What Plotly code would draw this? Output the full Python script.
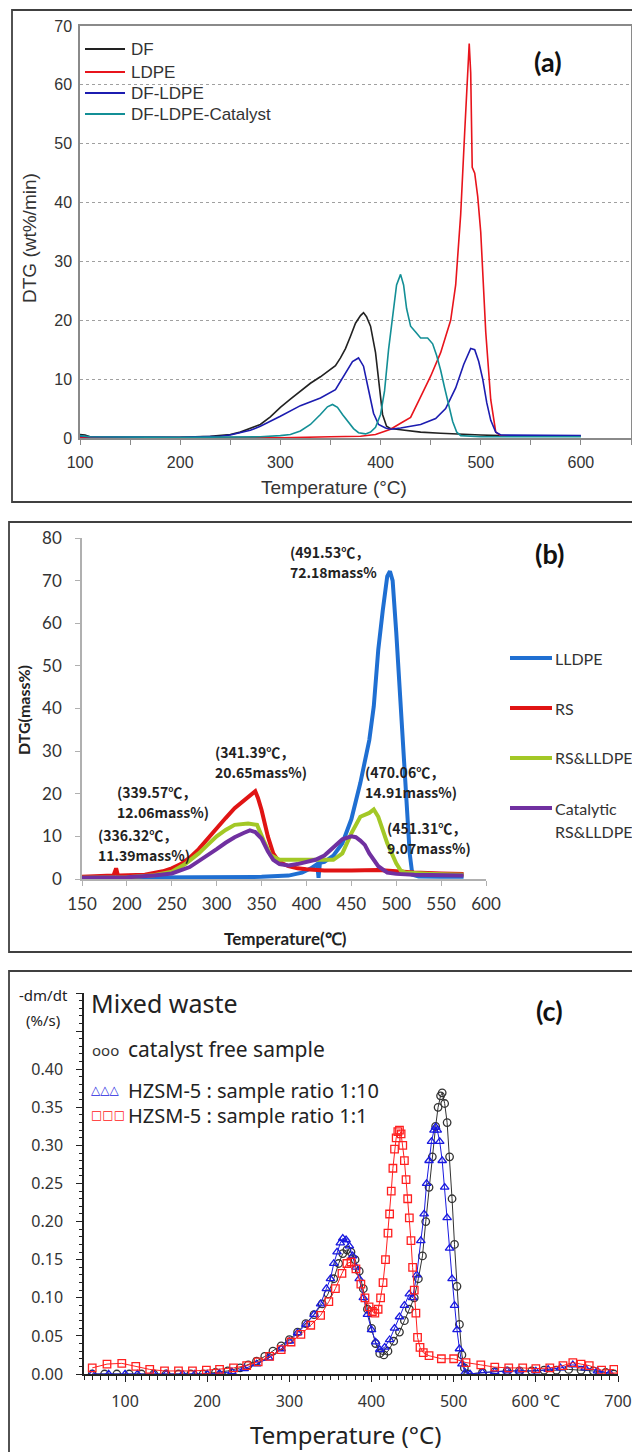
import plotly.graph_objects as go

W, H = 640, 1452
OFF = 8  # page body margin in the browser

def X(px):
    return (px - OFF) / W

def Y(py):
    return 1 - (py - OFF) / H

# ---------------- Panel (a) data ----------------
df_T = [100, 105, 110, 120, 150, 200, 230, 250, 260, 270, 280, 290, 300, 310, 320, 330, 340, 350, 355, 360,
        365, 370, 375, 380, 383, 386, 390, 395, 398, 402, 406, 410, 420, 440, 460, 480, 500, 520, 550, 600]
df_Y = [0.6, 0.5, 0.2, 0.1, 0.05, 0.1, 0.3, 0.6, 1.0, 1.6, 2.3, 3.6, 5.2, 6.6, 8.0, 9.3, 10.4, 11.6, 12.3, 13.6,
        15.2, 17.3, 19.5, 20.8, 21.3, 20.6, 19.0, 14.5, 10.0, 4.0, 2.0, 1.6, 1.4, 1.0, 0.8, 0.6, 0.5, 0.4, 0.3, 0.3]

ldpe_T = [100, 200, 300, 350, 380, 395, 400, 410, 420, 430, 440, 450, 460, 470, 475, 480, 484, 487, 488.5,
          490, 491.5, 494, 497, 500, 505, 510, 515, 520, 560, 600]
ldpe_Y = [0.1, 0.05, 0.05, 0.2, 0.3, 0.6, 0.9, 1.5, 2.5, 3.5, 7.0, 10.5, 14.5, 20.0, 26.0, 38.0, 52.0, 63.0, 67.0,
          62.0, 46.0, 45.0, 41.0, 35.0, 18.0, 6.5, 1.0, 0.4, 0.3, 0.3]

dfl_T = [100, 110, 200, 240, 250, 270, 280, 290, 300, 320, 340, 355, 365, 372, 378, 383, 388, 393, 398, 405,
         410, 420, 440, 455, 465, 475, 483, 490, 494, 498, 502, 506, 510, 515, 520, 560, 600]
dfl_Y = [0.3, 0.2, 0.1, 0.3, 0.5, 1.3, 2.0, 2.8, 3.7, 5.5, 6.8, 8.2, 11.0, 13.0, 13.6, 12.2, 8.2, 4.2, 2.3, 1.7,
         1.5, 1.7, 2.3, 3.3, 5.0, 8.5, 12.5, 15.2, 15.0, 13.0, 10.0, 6.0, 3.0, 1.0, 0.5, 0.4, 0.4]

cat_T = [100, 110, 200, 280, 300, 310, 320, 330, 340, 347, 352, 357, 362, 368, 373, 378, 385, 390, 395, 400,
         404, 408, 412, 416, 420, 423, 426, 430, 435, 440, 447, 452, 456, 460, 464, 468, 472, 476, 480, 500, 600]
cat_Y = [0.4, 0.2, 0.1, 0.2, 0.4, 0.6, 1.2, 2.3, 4.0, 5.3, 5.7, 5.2, 4.0, 2.7, 1.6, 0.9, 0.7, 1.0, 1.8, 4.0,
         8.0, 15.0, 21.0, 26.0, 27.8, 26.0, 22.0, 19.0, 18.0, 17.0, 17.0, 16.0, 14.0, 11.5, 8.5, 5.5, 2.8, 1.0,
         0.4, 0.2, 0.2]

a_names = ["DF", "LDPE", "DF-LDPE", "DF-LDPE-Catalyst"]
a_colors = ["#222222", "#e8141c", "#1c1cb0", "#138f96"]

# ---------------- Panel (b) data ----------------
lldpe_T = [150, 200, 250, 300, 350, 380, 395, 405, 412, 413.5, 415, 420, 430, 440, 450, 460, 470, 475, 480, 485,
           490, 493, 496, 500, 505, 510, 515, 518, 525, 550, 575]
lldpe_Y = [0.3, 0.3, 0.3, 0.4, 0.5, 0.8, 1.5, 2.5, 3.5, 0.3, 3.8, 4.0, 5.5, 8.4, 14.0, 22.5, 32.6, 40.5, 53.8, 63.0,
           71.0, 72.2, 70.0, 58.0, 40.0, 22.0, 6.0, 1.0, 0.6, 0.5, 0.5]

rs_T = [150, 170, 185, 188, 190, 192, 200, 220, 240, 250, 260, 270, 280, 290, 300, 310, 320, 330, 336, 340,
        343, 346, 350, 357, 363, 368, 373, 380, 390, 400, 420, 450, 480, 500, 520, 550, 575]
rs_Y = [0.5, 0.6, 0.8, 2.5, 0.8, 0.8, 0.8, 1.0, 1.8, 2.5, 3.5, 5.0, 7.0, 9.5, 11.8, 14.3, 16.6, 18.3, 19.3, 20.0,
        20.6, 19.0, 16.2, 10.0, 6.0, 4.5, 3.7, 3.0, 2.5, 2.3, 2.0, 2.0, 2.1, 1.8, 1.5, 1.3, 1.2]

mix_T = [150, 200, 230, 250, 265, 280, 290, 300, 310, 320, 335, 345, 352, 360, 370, 380, 400, 430, 440, 450,
         460, 470, 475, 480, 490, 500, 505, 510, 540, 575]
mix_Y = [0.3, 0.4, 0.9, 1.7, 3.5, 6.0, 8.0, 10.0, 11.5, 12.7, 13.0, 12.7, 9.2, 5.6, 4.5, 4.5, 4.5, 4.5, 6.0, 10.7,
         14.6, 15.5, 16.3, 14.6, 8.4, 3.7, 2.0, 1.5, 1.2, 1.0]

catb_T = [150, 200, 230, 250, 270, 290, 300, 310, 320, 330, 337, 343, 350, 357, 363, 370, 380, 390, 400, 410,
          420, 430, 440, 450, 455, 460, 465, 470, 475, 480, 490, 500, 520, 550, 575]
catb_Y = [0.3, 0.4, 0.8, 1.3, 2.8, 5.5, 7.0, 8.5, 9.8, 10.8, 11.4, 11.0, 9.5, 6.5, 4.5, 3.5, 3.2, 3.5, 4.0, 4.5,
          5.5, 7.5, 9.3, 10.0, 9.8, 9.0, 8.0, 6.0, 4.5, 3.0, 1.5, 1.2, 1.0, 0.8, 0.8]

b_names = ["LLDPE", "RS", "RS&amp;LLDPE", "Catalytic RS&amp;LLDPE"]
b_colors = ["#1f6fd2", "#e01414", "#a3c826", "#7030a0"]

b_labels = [
    ("(491.53℃，", "72.18mass%", 288, 552),
    ("(341.39℃，", "20.65mass%)", 213, 752),
    ("(339.57℃，", "12.06mass%)", 115, 792),
    ("(336.32℃，", "11.39mass%)", 96, 835),
    ("(470.06℃，", "14.91mass%)", 363, 772),
    ("(451.31℃，", "9.07mass%)", 385, 828),
]

# ---------------- Panel (c) data ----------------
free_T = [60, 75, 90, 105, 120, 135, 150, 165, 180, 195, 210, 225, 240, 250, 260, 270, 280, 290, 300, 310, 320,
          330, 340, 347, 354, 360, 365, 370, 375, 380, 385, 390, 395, 400, 405, 410, 415, 420, 427, 434, 440, 446,
          452, 457, 462, 466, 470, 474, 478, 481, 484, 486, 489, 492, 495, 498, 501, 504, 507, 510, 513, 517, 535,
          550, 565, 580, 595, 610, 625, 640, 655, 670, 685, 695]
free_Y = [0, 0, 0, 0, 0, 0, 0, 0, 0, 0, 0.002, 0.004, 0.008, 0.012, 0.017, 0.023, 0.030, 0.037, 0.045, 0.055,
          0.066, 0.078, 0.092, 0.105, 0.125, 0.145, 0.158, 0.163, 0.160, 0.150, 0.135, 0.112, 0.085, 0.060, 0.040,
          0.027, 0.025, 0.030, 0.043, 0.055, 0.070, 0.085, 0.100, 0.125, 0.155, 0.200, 0.245, 0.285, 0.325, 0.350,
          0.365, 0.369, 0.355, 0.330, 0.285, 0.230, 0.170, 0.115, 0.065, 0.025, 0.008, 0, 0.002, 0.003, 0.004,
          0.004, 0.004, 0.005, 0.005, 0.006, 0.005, 0.004, 0.002, 0]

h10_T = [60, 80, 100, 115, 135, 150, 170, 185, 200, 215, 230, 245, 260, 275, 290, 300, 310, 320, 330, 338, 345,
         350, 354, 358, 362, 365, 369, 373, 377, 381, 385, 390, 395, 400, 405, 410, 416, 422, 428, 434, 440, 446,
         450, 455, 460, 464, 467, 470, 473, 476, 478, 480, 483, 486, 489, 492, 495, 498, 501, 504, 507, 510, 514,
         520, 535, 550, 565, 580, 600, 615, 630, 645, 660, 675, 690]
h10_Y = [0, 0, 0, 0, 0, 0, 0, 0, 0, 0.001, 0.003, 0.007, 0.013, 0.021, 0.033, 0.043, 0.054, 0.065, 0.078, 0.092,
         0.112, 0.125, 0.145, 0.160, 0.172, 0.178, 0.176, 0.168, 0.155, 0.140, 0.125, 0.100, 0.078, 0.058, 0.042,
         0.032, 0.035, 0.045, 0.060, 0.075, 0.090, 0.105, 0.100, 0.130, 0.175, 0.210, 0.250, 0.280, 0.305, 0.320,
         0.324, 0.320, 0.305, 0.280, 0.245, 0.205, 0.165, 0.125, 0.090, 0.058, 0.033, 0.013, 0.002, 0, 0.002,
         0.003, 0.004, 0.004, 0.004, 0.006, 0.008, 0.012, 0.008, 0.004, 0.001]

h1_T = [60, 78, 96, 113, 130, 148, 165, 182, 199, 215, 232, 248, 262, 276, 290, 302, 314, 326, 338, 348, 356,
        364, 370, 375, 381, 387, 392, 397, 401, 404, 408, 411, 414, 417, 420, 422, 424, 426, 428, 430, 432, 434,
        436, 438, 440, 442, 444, 446, 448, 450, 452, 454, 456, 459, 463, 470, 485, 500, 515, 533, 550, 567, 584,
        600, 617, 633, 645, 655, 665, 680, 695]
h1_Y = [0.008, 0.013, 0.014, 0.010, 0.006, 0.004, 0.004, 0.004, 0.005, 0.006, 0.008, 0.011, 0.016, 0.023, 0.032,
        0.042, 0.052, 0.064, 0.077, 0.095, 0.112, 0.132, 0.145, 0.147, 0.138, 0.118, 0.100, 0.088, 0.082, 0.080,
        0.085, 0.100, 0.120, 0.150, 0.185, 0.210, 0.240, 0.270, 0.295, 0.310, 0.318, 0.320, 0.315, 0.300, 0.280,
        0.255, 0.230, 0.205, 0.175, 0.140, 0.110, 0.080, 0.048, 0.035, 0.028, 0.024, 0.020, 0.020, 0.015, 0.012,
        0.009, 0.008, 0.008, 0.007, 0.008, 0.011, 0.015, 0.013, 0.011, 0.005, 0.006]

c_names = ["catalyst free sample", "HZSM-5 : sample ratio 1:10", "HZSM-5 : sample ratio 1:1"]
c_colors = ["#333333", "#1a1ae0", "#ff2020"]
c_symbols = ["circle-open", "triangle-up-open", "square-open"]

x_ticks_a = [100, 200, 300, 400, 500, 600]
y_ticks_a = [0, 10, 20, 30, 40, 50, 60, 70]
x_ticks_b = [150, 200, 250, 300, 350, 400, 450, 500, 550, 600]
y_ticks_b = [0, 10, 20, 30, 40, 50, 60, 70, 80]
x_ticks_c = [100, 200, 300, 400, 500, 600, 700]
x_text_c = ["100", "200", "300", "400", "500", "600 °C", "700"]
y_ticks_c = [0, 0.05, 0.10, 0.15, 0.20, 0.25, 0.30, 0.35, 0.40, 0.45, 0.50]
y_text_c = ["0.00", "0.05", "0.10", "0.15", "0.20", "0.25", "0.30", "0.35", "0.40", "", ""]

fig = go.Figure()

# Panel (a)
for T, Yv, n, c in zip([df_T, ldpe_T, dfl_T, cat_T], [df_Y, ldpe_Y, dfl_Y, cat_Y], a_names, a_colors):
    fig.add_trace(go.Scatter(x=T, y=Yv, name=n, mode="lines", line=dict(color=c, width=1.6),
                             xaxis="x", yaxis="y", showlegend=False))

# Panel (b)
for T, Yv, n, c in zip([lldpe_T, rs_T, mix_T, catb_T], [lldpe_Y, rs_Y, mix_Y, catb_Y], b_names, b_colors):
    fig.add_trace(go.Scatter(x=T, y=Yv, name=n, mode="lines", line=dict(color=c, width=4),
                             xaxis="x2", yaxis="y2", showlegend=False))

# Panel (c)
for T, Yv, n, c, s in zip([free_T, h10_T, h1_T], [free_Y, h10_Y, h1_Y], c_names, c_colors, c_symbols):
    fig.add_trace(go.Scatter(x=T, y=Yv, name=n, mode="lines+markers",
                             line=dict(color=c, width=1),
                             marker=dict(symbol=s, size=7.5, color=c, line=dict(width=1.3, color=c)),
                             xaxis="x3", yaxis="y3", showlegend=False))

fa = "Liberation Sans"
fb = "Lato"
fc = "Noto Sans"

layout = dict(
    width=W, height=H, autosize=False,
    margin=dict(l=0, r=0, t=0, b=0, autoexpand=False),
    paper_bgcolor="white", plot_bgcolor="white",
    xaxis=dict(domain=[X(80), X(631)], range=[100, 650], tickvals=x_ticks_a, showline=True, mirror=True,
               linecolor="#8a8a8a", linewidth=1.5, ticks="outside", ticklen=5, tickcolor="#8a8a8a",
               minor=dict(dtick=50, ticks="outside", ticklen=5, tickcolor="#8a8a8a"),
               showgrid=False, zeroline=False, tickfont=dict(family=fa, size=16, color="#333"),
               ticklabelstandoff=4, anchor="y", automargin=False),
    yaxis=dict(domain=[Y(438), Y(26)], range=[0, 70], tickvals=y_ticks_a, showline=True, mirror=True,
               linecolor="#8a8a8a", linewidth=1.5, ticks="", showgrid=True, gridcolor="#a0a0a0",
               griddash="dot", gridwidth=1, zeroline=False,
               tickfont=dict(family=fa, size=16, color="#333"), ticklabelstandoff=3, anchor="x",
               automargin=False),
    xaxis2=dict(domain=[X(82), X(486)], range=[150, 600], tickvals=x_ticks_b, showline=True,
                linecolor="#b0b0b0", linewidth=1.5, ticks="outside", ticklen=5, tickcolor="#b0b0b0",
                showgrid=False, zeroline=False, tickfont=dict(family=fb, size=17, color="#333"),
                ticklabelstandoff=4, anchor="y2", automargin=False),
    yaxis2=dict(domain=[Y(879), Y(538)], range=[0, 80], tickvals=y_ticks_b, showline=True,
                linecolor="#b0b0b0", linewidth=1.5, ticks="outside", ticklen=5, tickcolor="#b0b0b0",
                showgrid=False, zeroline=False, tickfont=dict(family=fb, size=17, color="#333"),
                ticklabelstandoff=10, anchor="x2", automargin=False),
    xaxis3=dict(domain=[X(84), X(618)], range=[50, 700], tickvals=x_ticks_c, ticktext=x_text_c,
                showline=True, linecolor="#222", linewidth=1.5, ticks="outside", ticklen=6, tickcolor="#222",
                minor=dict(dtick=10, ticks="outside", ticklen=4, tickcolor="#222"),
                showgrid=False, zeroline=False, tickfont=dict(family=fc, size=16, color="#333"),
                ticklabelstandoff=6, anchor="y3", automargin=False),
    yaxis3=dict(domain=[Y(1374), Y(993)], range=[0, 0.5], tickvals=y_ticks_c, ticktext=y_text_c,
                showline=True, linecolor="#222", linewidth=1.5, ticks="outside", ticklen=6, tickcolor="#222",
                minor=dict(dtick=0.01, ticks="outside", ticklen=3, tickcolor="#222"),
                showgrid=False, zeroline=False, tickfont=dict(family=fc, size=16, color="#333"),
                ticklabelstandoff=10, anchor="x3", automargin=False),
)
fig.update_layout(**layout)

shapes = []
# panel frames
for (x0, y0, y1) in [(12, 10, 502), (9, 522, 952), (9, 971, 1480)]:
    shapes.append(dict(type="rect", xref="paper", yref="paper", x0=X(x0), x1=X(670), y0=Y(y1), y1=Y(y0),
                       line=dict(color="#404040", width=1.8)))
# legend swatches (a)
for yy, c in zip([49, 72, 93, 114], a_colors):
    shapes.append(dict(type="line", xref="paper", yref="paper", x0=X(85), x1=X(125), y0=Y(yy), y1=Y(yy),
                       line=dict(color=c, width=2)))
# legend swatches (b)
for yy, c in zip([658, 708, 758, 808], b_colors):
    shapes.append(dict(type="line", xref="paper", yref="paper", x0=X(510), x1=X(552), y0=Y(yy), y1=Y(yy),
                       line=dict(color=c, width=4)))
fig.update_layout(shapes=shapes)

ann = []

def txt(s, px, py, size, family, color="#222", xa="left", ya="middle", bold=False, angle=0):
    if bold:
        s = "<b>" + s + "</b>"
    ann.append(dict(text=s, x=X(px), y=Y(py), xref="paper", yref="paper", xanchor=xa, yanchor=ya,
                    showarrow=False, textangle=angle, font=dict(family=family, size=size, color=color)))

# Panel (a) texts
for yy, n in zip([49, 72, 93, 114], a_names):
    txt(n, 129, yy, 17, fa, "#333")
txt("(a)", 548, 62, 27, fb, "#111", xa="center", bold=True)
txt("DTG (wt%/min)", 29, 238, 19, fa, "#333", xa="center", angle=-90)
txt("Temperature (°C)", 334, 487, 19, fa, "#333", xa="center")

# Panel (b) texts
for yy, n in zip([658, 708, 758, 808], ["LLDPE", "RS", "RS&amp;LLDPE", "Catalytic"]):
    txt(n, 553, yy, 16, fb, "#333")
txt("RS&amp;LLDPE", 553, 832, 16, fb, "#333")
txt("(b)", 549, 553, 27, fb, "#111", xa="center", bold=True)
txt("DTG(mass%)", 23, 710, 16, fb, "#222", xa="center", angle=-90, bold=True)
txt("Temperature(℃)", 285, 938, 17, fb, "#222", xa="center", bold=True)
for l1, l2, px, py in b_labels:
    txt(l1, px, py, 14, "Noto Sans CJK SC", "#222", bold=True)
    txt(l2, px, py + 20, 14, "Noto Sans CJK SC", "#222", bold=True)

# Panel (c) texts
txt("Mixed waste", 89, 1003, 25, fc, "#222")
txt("(c)", 549, 1010, 27, fb, "#111", xa="center", bold=True)
txt("-dm/dt", 43, 995, 15, fc, "#222", xa="center")
txt("(%/s)", 43, 1020, 15, fc, "#222", xa="center")
txt("ooo", 90, 1050, 15, fc, "#333")
txt("catalyst free sample", 126, 1049, 21, fc, "#222")
txt("△△△", 89, 1090, 12, "DejaVu Sans", "#1a1ae0")
txt("HZSM-5 : sample ratio 1:10", 126, 1090, 20, fc, "#222")
txt("□□□", 89, 1115, 12, "DejaVu Sans", "#ff2020")
txt("HZSM-5 : sample ratio 1:1", 126, 1115, 20, fc, "#222")
txt("Temperature (°C)", 345, 1434, 24, fc, "#222", xa="center")

fig.update_layout(annotations=ann)

fig.write_html("out.html")
